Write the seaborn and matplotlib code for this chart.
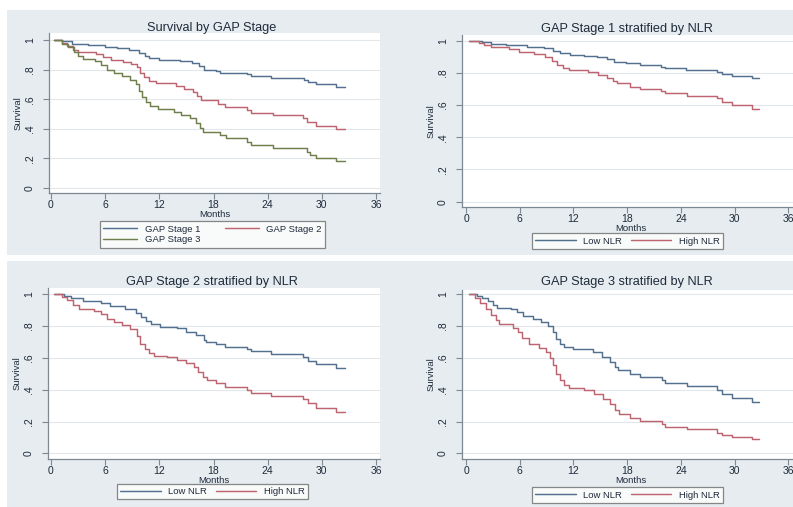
import numpy as np
import pandas as pd
import matplotlib
matplotlib.use("Agg")
import matplotlib.pyplot as plt
from matplotlib.patches import Rectangle
import seaborn as sns

# ---------------- data: Kaplan-Meier step points (months, survival) ----------------
tl_stage1_t = [0.3, 1.2, 2.3, 4.1, 6.0, 7.3, 8.6, 9.7, 10.4, 10.9, 12.0, 14.3, 15.6, 16.4, 16.9,
               18.3, 18.7, 21.7, 22.2, 24.4, 28.0, 28.5, 29.4, 31.6, 32.6]
tl_stage1_s = [1.0, 0.99, 0.976, 0.964, 0.955, 0.945, 0.932, 0.915, 0.895, 0.878, 0.868, 0.857, 0.843, 0.822, 0.80,
               0.791, 0.78, 0.767, 0.757, 0.746, 0.728, 0.717, 0.701, 0.683, 0.683]

tl_stage2_t = [0.3, 1.2, 1.8, 2.4, 3.0, 5.0, 5.8, 6.6, 8.0, 8.9, 9.5, 9.9, 10.3, 10.8, 11.6, 13.8, 14.7,
               15.7, 16.2, 16.6, 18.5, 19.3, 21.7, 22.2, 24.6, 27.9, 28.3, 29.4, 31.6, 32.6]
tl_stage2_s = [1.0, 0.98, 0.96, 0.935, 0.922, 0.906, 0.885, 0.868, 0.852, 0.835, 0.815, 0.78, 0.748, 0.725, 0.708,
               0.69, 0.668, 0.648, 0.622, 0.592, 0.566, 0.544, 0.526, 0.51, 0.492, 0.47, 0.447, 0.42, 0.396, 0.396]

tl_stage3_t = [0.3, 1.2, 1.9, 2.5, 3.0, 3.5, 4.9, 5.5, 6.2, 7.0, 7.9, 8.8, 9.4, 9.8, 10.1, 10.5, 11.0, 11.8,
               13.6, 14.4, 15.4, 16.1, 16.5, 16.8, 18.7, 19.4, 21.7, 22.2, 24.6, 28.3, 28.7, 29.4, 31.6, 32.6]
tl_stage3_s = [1.0, 0.975, 0.95, 0.92, 0.895, 0.872, 0.855, 0.83, 0.80, 0.778, 0.755, 0.728, 0.70, 0.655, 0.615,
               0.58, 0.552, 0.532, 0.515, 0.495, 0.472, 0.44, 0.405, 0.376, 0.357, 0.335, 0.312, 0.29, 0.272,
               0.245, 0.223, 0.204, 0.182, 0.182]

s1_low_t = [0.3, 1.8, 2.8, 4.5, 6.8, 8.7, 9.7, 10.5, 11.6, 13.2, 14.6, 15.8, 16.5, 17.9, 19.4, 21.8, 22.2,
            24.6, 28.0, 28.6, 29.7, 31.9, 32.7]
s1_low_s = [1.0, 0.99, 0.982, 0.973, 0.963, 0.953, 0.938, 0.922, 0.91, 0.905, 0.898, 0.885, 0.87, 0.86, 0.849,
            0.838, 0.828, 0.818, 0.804, 0.793, 0.781, 0.77, 0.77]
s1_high_t = [0.3, 1.4, 2.0, 2.8, 4.8, 5.9, 7.6, 8.8, 9.6, 10.2, 10.8, 11.5, 13.6, 14.8, 15.8, 16.4, 16.9,
             18.3, 19.4, 21.8, 22.2, 24.7, 28.0, 28.6, 29.7, 31.9, 32.7]
s1_high_s = [1.0, 0.985, 0.973, 0.959, 0.947, 0.932, 0.917, 0.90, 0.872, 0.85, 0.83, 0.82, 0.807, 0.79, 0.768,
             0.752, 0.735, 0.714, 0.698, 0.688, 0.673, 0.658, 0.642, 0.621, 0.60, 0.578, 0.578]

s2_low_t = [0.3, 1.4, 2.2, 3.5, 5.5, 6.5, 8.2, 9.4, 10.0, 10.5, 11.1, 12.1, 14.0, 15.0, 16.1, 16.9, 17.2,
            18.3, 19.3, 21.7, 22.2, 24.4, 27.9, 28.5, 29.4, 31.6, 32.6]
s2_low_s = [1.0, 0.99, 0.979, 0.958, 0.943, 0.928, 0.908, 0.885, 0.86, 0.835, 0.813, 0.797, 0.786, 0.765, 0.744,
            0.715, 0.697, 0.685, 0.667, 0.654, 0.643, 0.624, 0.604, 0.58, 0.562, 0.539, 0.539]
s2_high_t = [0.3, 1.2, 1.8, 2.4, 3.1, 4.8, 5.5, 6.2, 7.0, 7.9, 8.8, 9.5, 9.9, 10.4, 10.8, 11.4, 12.8, 14.0,
             15.0, 15.8, 16.3, 16.8, 17.3, 18.3, 19.3, 21.7, 22.2, 24.4, 27.9, 28.5, 29.4, 31.6, 32.6]
s2_high_s = [1.0, 0.98, 0.962, 0.935, 0.908, 0.895, 0.874, 0.845, 0.824, 0.807, 0.78, 0.735, 0.69, 0.655, 0.629,
             0.614, 0.605, 0.587, 0.565, 0.545, 0.51, 0.48, 0.461, 0.44, 0.419, 0.398, 0.381, 0.36, 0.34,
             0.314, 0.287, 0.262, 0.262]

s3_low_t = [0.3, 1.2, 1.8, 2.5, 3.0, 3.5, 5.0, 5.7, 6.4, 7.5, 8.4, 9.2, 9.7, 10.1, 10.5, 11.0, 12.0, 14.2,
            15.2, 16.1, 16.6, 17.0, 18.3, 19.4, 21.9, 22.2, 24.7, 28.0, 28.6, 29.7, 31.9, 32.7]
s3_low_s = [1.0, 0.99, 0.975, 0.955, 0.935, 0.915, 0.905, 0.888, 0.862, 0.845, 0.826, 0.80, 0.76, 0.72, 0.69,
            0.67, 0.656, 0.635, 0.605, 0.575, 0.545, 0.524, 0.497, 0.482, 0.461, 0.444, 0.425, 0.398, 0.373,
            0.346, 0.321, 0.321]
s3_high_t = [0.3, 1.0, 1.6, 2.2, 2.8, 3.3, 3.7, 5.3, 5.8, 6.3, 7.0, 8.2, 8.9, 9.4, 9.7, 10.1, 10.5, 11.0, 11.5,
             13.2, 14.3, 15.3, 16.1, 16.7, 17.1, 18.3, 19.4, 21.9, 22.2, 24.7, 28.0, 28.6, 29.7, 31.9, 32.7]
s3_high_s = [1.0, 0.975, 0.945, 0.91, 0.87, 0.84, 0.813, 0.79, 0.76, 0.725, 0.69, 0.665, 0.64, 0.60, 0.555,
             0.50, 0.46, 0.43, 0.41, 0.398, 0.37, 0.34, 0.31, 0.275, 0.245, 0.22, 0.203, 0.182, 0.167, 0.153,
             0.13, 0.115, 0.101, 0.088, 0.088]

x_ticks = [0, 6, 12, 18, 24, 30, 36]
y_ticks = [0, 0.2, 0.4, 0.6, 0.8, 1.0]
y_tick_labels = ["0", ".2", ".4", ".6", ".8", "1"]

# ---------------- styling ----------------
sns.set_theme(style="white")
plt.rcParams["font.family"] = ["Liberation Sans", "DejaVu Sans"]

W, H = 793, 507
BG = "#e6ecf0"
C_BLUE = "#53708e"
C_RED = "#bd6470"
C_GREEN = "#6f7f4c"
AX_COL = "#7d8893"
TXT = "#1f2b3a"

fig = plt.figure(figsize=(W / 100, H / 100), dpi=100, facecolor=BG)

# white framing strips
for (x, y, w, h) in [(0, 0, W, 10), (0, 0, 7, H), (0, 255, W, 6)]:
    fig.patches.append(Rectangle((x / W, 1 - (y + h) / H), w / W, h / H,
                                 transform=fig.transFigure, facecolor="white",
                                 edgecolor="none", zorder=0))


def panel(box, x0, sx, y1, y0, title, title_xy, curves, legend_order, legend_box, handlelen):
    left, top, right, bottom = box
    ax = fig.add_axes([left / W, 1 - bottom / H, (right - left) / W, (bottom - top) / H])
    ax.set_facecolor("white")

    frames = []
    for name, t, s, col in curves:
        frames.append(pd.DataFrame({"Months": t, "Survival": s, "group": name}))
    df = pd.concat(frames, ignore_index=True)
    palette = {name: col for name, _, _, col in curves}
    sns.lineplot(data=df, x="Months", y="Survival", hue="group", palette=palette,
                 estimator=None, drawstyle="steps-post", linewidth=1.05,
                 legend=False, ax=ax)

    sy = y0 - y1
    ax.set_xlim((left - x0) / sx, (right - x0) / sx)
    ax.set_ylim((y0 - bottom) / sy, (y0 - top) / sy)

    ax.set_xticks(x_ticks)
    ax.set_yticks(y_ticks)
    ax.set_yticklabels(y_tick_labels, rotation=90, va="center")
    for yv in y_ticks:
        ax.axhline(yv, color="#e2e7eb", lw=0.8, zorder=0)

    for sp in ["top", "right"]:
        ax.spines[sp].set_visible(False)
    for sp in ["left", "bottom"]:
        ax.spines[sp].set_color(AX_COL)
        ax.spines[sp].set_linewidth(0.9)
    ax.tick_params(axis="x", direction="out", length=4, width=0.8, color=AX_COL,
                   labelsize=7.5, labelcolor=TXT, pad=1, bottom=True)
    ax.tick_params(axis="y", direction="out", length=4, width=0.8, color=AX_COL,
                   labelsize=7.5, labelcolor=TXT, pad=6, left=True)
    ax.set_xlabel("Months", fontsize=6.8, color=TXT, labelpad=0)
    ax.set_ylabel("Survival", fontsize=6.8, color=TXT, labelpad=1.5)

    fig.text(title_xy[0] / W, 1 - title_xy[1] / H, title, ha="center", va="center",
             fontsize=9.2, color=TXT)

    lines = ax.lines[:len(curves)]
    handles = [lines[i] for i in legend_order]
    labels = [curves[i][0] for i in legend_order]
    lx, ly, lw_, lh = legend_box
    leg = ax.legend(handles=handles, labels=labels,
                    loc="center", bbox_to_anchor=(lx / W, 1 - (ly + lh) / H, lw_ / W, lh / H),
                    bbox_transform=fig.transFigure, mode="expand", ncol=2,
                    fontsize=6.8, frameon=True, fancybox=False, handlelength=handlelen,
                    handletextpad=0.8, labelspacing=0.15, borderpad=0.35,
                    columnspacing=1.0, borderaxespad=0)
    leg.get_frame().set_edgecolor("#6b6b6b")
    leg.get_frame().set_linewidth(0.9)
    leg.get_frame().set_facecolor("white")
    for txt in leg.get_texts():
        txt.set_color(TXT)
    return ax


panel((49, 33, 380, 193), 51, 9.03, 40, 188, "Survival by GAP Stage", (212, 28),
      [("GAP Stage 1", tl_stage1_t, tl_stage1_s, C_BLUE),
       ("GAP Stage 2", tl_stage2_t, tl_stage2_s, C_RED),
       ("GAP Stage 3", tl_stage3_t, tl_stage3_s, C_GREEN)],
      [0, 2, 1], (100, 222, 225, 25), 3.6)

panel((462, 35, 800, 207), 466, 8.95, 40.7, 201.7, "GAP Stage 1 stratified by NLR", (627, 29),
      [("Low NLR", s1_low_t, s1_low_s, C_BLUE),
       ("High NLR", s1_high_t, s1_high_s, C_RED)],
      [0, 1], (532, 232, 191, 18), 4.3)

panel((48, 288, 380, 459), 51, 9.03, 294.3, 453.3, "GAP Stage 2 stratified by NLR", (212, 282),
      [("Low NLR", s2_low_t, s2_low_s, C_BLUE),
       ("High NLR", s2_high_t, s2_high_s, C_RED)],
      [0, 1], (117, 483, 191, 17), 4.3)

panel((462, 290, 800, 459), 466, 8.95, 294.3, 453.3, "GAP Stage 3 stratified by NLR", (627, 282),
      [("Low NLR", s3_low_t, s3_low_s, C_BLUE),
       ("High NLR", s3_high_t, s3_high_s, C_RED)],
      [0, 1], (532, 487, 191, 16), 4.3)

fig.savefig("out.png", dpi=100, facecolor=BG)
